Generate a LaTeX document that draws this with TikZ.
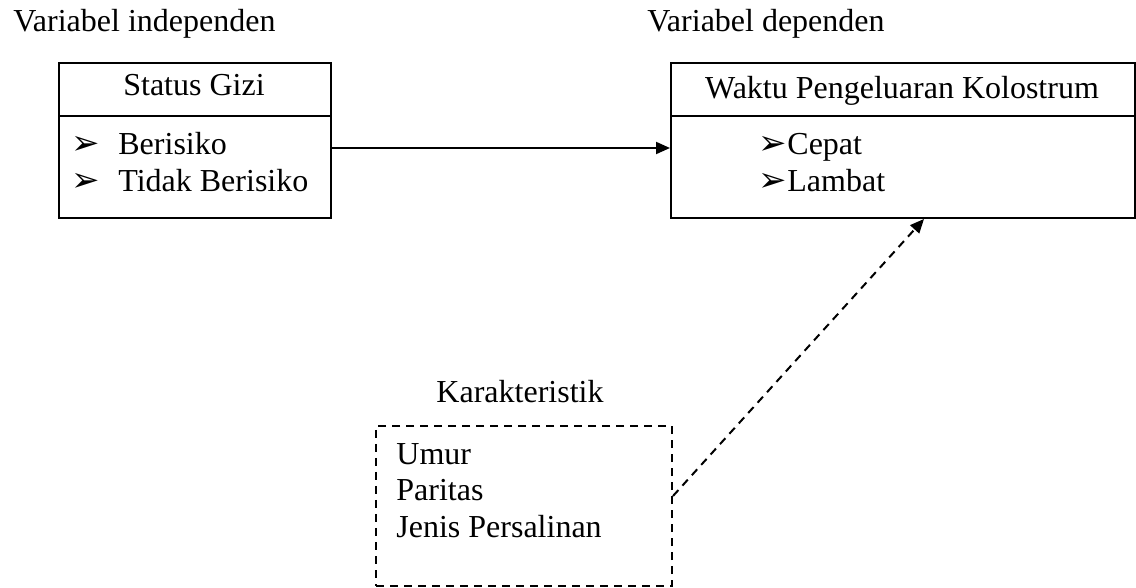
\documentclass[tikz,border=0pt]{standalone}
\usepackage{fontspec}
\setmainfont{Liberation Serif}
\newfontfamily\dejavu{DejaVu Sans}
\usetikzlibrary{arrows.meta}
\tikzset{
  box/.style={draw, line width=1pt, inner sep=0pt, anchor=north west},
  dbox/.style={draw, line width=1pt, inner sep=0pt, anchor=north west, dash pattern=on 4pt off 3pt},
  txt/.style={anchor=base west, inner sep=0pt},
  bul/.style={anchor=base west, inner sep=0pt, font=\dejavu\fontsize{17}{20}\selectfont},
  arr/.style={line width=1pt, -{Triangle[length=7pt,width=6pt]}},
  darr/.style={line width=1pt, dash pattern=on 4pt off 3pt, -{Triangle[length=7pt,width=6pt]}}
}
\begin{document}
\begin{tikzpicture}[x=0.5pt,y=-0.5pt, font=\fontsize{16}{19}\selectfont]
\useasboundingbox (0,0) rectangle (1136,588);
% headings
\node[txt] (hind) at (13,32) {Variabel independen};
\node[txt] (hdep) at (647,32) {Variabel dependen};
% left box
\node[box, minimum width=136pt, minimum height=26.5pt] (sgT) at (58,62) {};
\node[txt, anchor=base] (sgTt) at (194,96) {Status Gizi};
\node[box, minimum width=136pt, minimum height=51pt] (sgB) at (58,115) {};
\node[bul] (b1) at (71,155) {➢};
\node[txt] (t1) at (118,155) {Berisiko};
\node[bul] (b2) at (71,192) {➢};
\node[txt] (t2) at (118,192) {Tidak Berisiko};
% right box
\node[box, minimum width=232pt, minimum height=26.5pt] (wkT) at (670,62) {};
\node[txt, anchor=base] (wkTt) at (902,99) {Waktu Pengeluaran Kolostrum};
\node[box, minimum width=232pt, minimum height=51pt] (wkB) at (670,115) {};
\node[bul] (b3) at (758,155) {➢};
\node[txt] (t3) at (787,155) {Cepat};
\node[bul] (b4) at (758,192) {➢};
\node[txt] (t4) at (787,192) {Lambat};
% karakteristik
\node[txt, anchor=base] (kart) at (520,402) {Karakteristik};
\node[dbox, minimum width=148pt, minimum height=80pt] (kar) at (375,425) {};
\node[txt] (k1) at (396,465) {Umur};
\node[txt] (k2) at (396,500) {Paritas};
\node[txt] (k3) at (396,537) {Jenis Persalinan};
% connectors
\draw[arr] ([yshift=-16.5pt]sgB.north east) -- ([yshift=-16.5pt]wkB.north west);
\draw[darr] ([yshift=5pt]kar.east) -- ([xshift=10.5pt]wkB.south);
\end{tikzpicture}
\end{document}
